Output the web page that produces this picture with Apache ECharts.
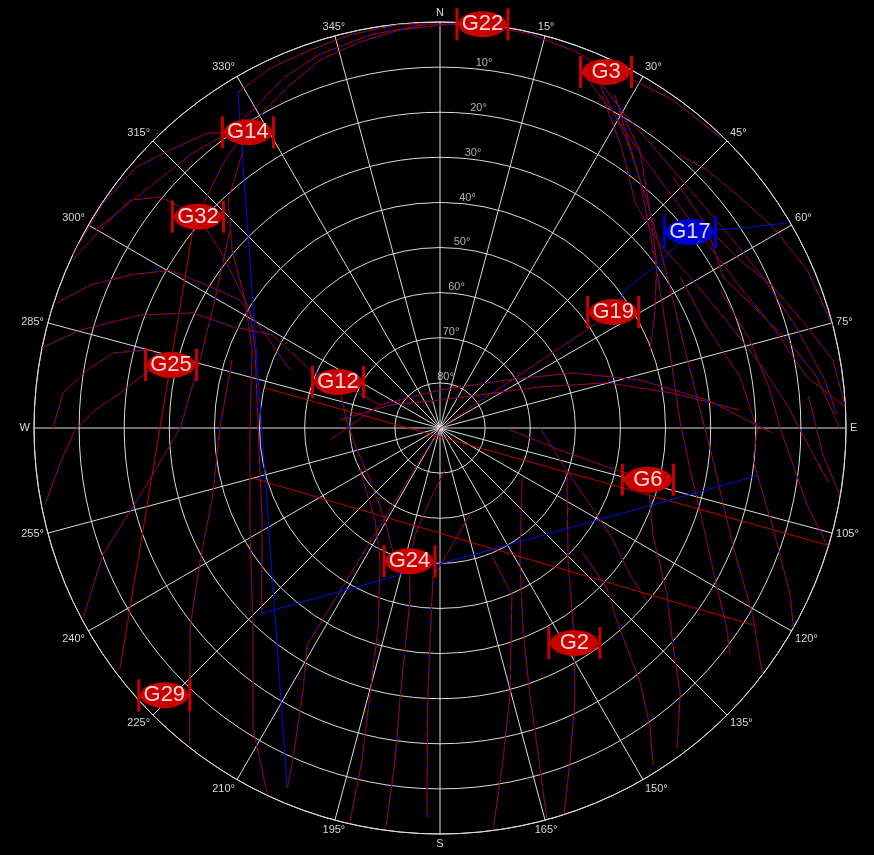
<!DOCTYPE html>
<html><head><meta charset="utf-8">
<script src="https://cdn.jsdelivr.net/npm/echarts@6/dist/echarts.min.js"></script>
<style>html,body{margin:0;padding:0;background:#000;}#c{width:874px;height:855px;}</style>
</head><body><div id="c"></div>
<script>
// ---- tick labels ----
const angleTicks = [0,15,30,45,60,75,90,105,120,135,150,165,180,195,210,225,240,255,270,285,300,315,330,345];
const compassNames = {0:'N',90:'E',180:'S',270:'W'};
const elevationRings = [10,20,30,40,50,60,70,80];

// ---- satellites: name, azimuth, elevation ----
const satNames = ['G22','G3','G14','G32','G25','G12','G17','G19','G6','G2','G24','G29'];
const satAz    = [6,    25,  327,  311.1,283.2,294.3,51.9, 56.2, 104, 148, 192.9,225.9];
const satEl    = [0,    2.9, 11.8, 18.8, 28.75,65.2, 19.6, 43.8, 42.5,33.8,59.7, 4.9];
const satBlue  = ['G17'];

// ---- tracks: [azimuth, elevation] ----
const rimNorth = [[328.8,3.2],[334.7,1.8],[341,1.4],[347.1,0.6],[354.3,0],[6,0],[12.9,0.4],[20,1.3],[24.9,2.7],[29,1.8],[35.4,0.8],[43.9,0.5]];
const rimG14 = [[327,11.8],[331.2,9.5],[336.4,7],[341.9,4.2],[348.3,2.6],[354.3,1.3],[2,0.3]];
const nw3 = [[300,2],[306,5],[312,7],[318,8],[324,9.5],[330,8],[336,5],[342,3],[350,1.5],[358,0.5]];
const nwArc = [[295.3,0],[303.7,0.2],[310.7,1.3],[315.8,4.1],[321.7,6.7],[327,11.8]];
const nw2 = [[294.6,0.5],[300.2,2.8],[306.3,4.7],[309.5,9.5],[311.1,17.4]];
const g32g14 = [[311.1,18.8],[316,16.6],[321.3,13.8],[325.2,12.3],[327,11.8]];
const wave1 = [[288.1,0.7],[292.2,6.2],[296.3,13.4],[300.3,20.7],[301.5,29.4],[302.6,37.4],[298.8,45],[291.1,54.4]];
const g12Track = [[281.4,0],[285.2,7.3],[290.6,18.9],[295,29.6],[296,38.9],[299.1,47.6],[294.1,58.4],[294.3,65.2],[291,75.7]];
const g12Down = [[294.3,65.2],[273.1,69.4],[255.2,71],[233.4,70.7],[210.9,66.2],[198.8,59.1]];
const g32Track = [[311.1,18.8],[309,27.3],[305.8,34],[301.8,40.4],[292.9,45.5],[269.4,49.7],[242.7,45.6],[223.9,33]];
const g14Drop = [[324.7,14.5],[317.1,21],[310.6,29.3],[303.3,38.3],[292.5,44.9],[270,47.9],[242.2,42.4],[223.1,29.3],[211.9,11.6],[205.2,0.1]];
const w1 = [[283.2,28.75],[280.8,23.9],[276.2,18.6],[273,13.4],[269.7,9.1],[264.8,5.5],[259,0.8]];
const w2 = [[313.3,26],[299.6,32.6],[285.8,34.7],[270,32.4],[260,24.7],[255,18.9],[249.4,10.2],[242,0.4]];
const w5 = [[288.1,41.5],[270,41.2],[253.6,37.5],[241,29.2],[231.3,19],[223.7,9.7],[218.3,0.5]];
const n6 = [[270,4.2],[275.3,6.1],[279.3,10.7],[282.9,15.6],[285.1,23.4],[283.2,28.75]];
const cs1 = [[56.2,43.8],[0,90],[211.5,33.6],[207.6,24.5],[203.9,9.5],[203,3.3]];
const s1 = [[173.2,80.6],[187.9,73.9],[193.2,65.6],[192.9,59.7],[189.9,51.3],[189,40.2],[188.4,29.1],[187.7,15.7],[187.7,1]];
const s2 = [[242.3,70],[215.2,65],[204.4,57.9],[197.2,43.6],[194.7,28.8],[193.2,14.2],[192.9,0.6]];
const s3 = [[160,70],[182.7,56.7],[182.7,43],[182.6,30.7],[182.2,16.1],[181.9,3.5]];
const br1 = [[157.8,58.9],[156.7,49.7],[165.3,28.8],[169.3,14.9],[172.5,0]];
const br2 = [[121.4,68.7],[149,55.6],[157.5,42],[161.4,27.5],[163,16.5],[164.7,0.4]];
const g2Track = [[108.7,60.3],[135.9,49.2],[148,33.8],[153.6,22.7],[158.6,11],[162.2,0]];
const br4 = [[131.2,47.9],[133.8,38.7],[137.5,32],[141.7,18.5],[145,8.8],[147.7,1.6]];
const g6Track = [[91.6,74.5],[100.4,63],[103.2,51.3],[104,42.5],[116.7,37.2],[126.3,27.5],[133,19.4],[138,10.4],[143.5,1.7]];
const ne3 = [[27.7,6.6],[38.9,19.4],[52,29.5],[68.9,35.8],[88.1,36.8],[99.5,33.8],[107.7,29.5],[118.9,20.3],[124.9,12.5],[128,8.4]];
const ne2 = [[25,6.1],[33,13.9],[43.9,22.9],[57,29.7],[72.3,33],[86,32.2],[96.9,29],[111.8,20.1],[120.9,9.2],[127.4,0]];
const ne8 = [[57.8,27.1],[69.3,26.7],[80.4,22.5],[90.2,19.7],[96,20.2],[106.7,12.9],[115.5,4],[119.5,0]];
const ne9 = [[63.8,20.8],[74.2,18.6],[83.4,16.4],[90,14.6],[101.8,6.9],[106.8,0.4]];
const br10 = [[85,8],[94,4.9],[99.5,0.1]];
const ne1 = [[21.9,5.2],[28.8,10.3],[36,14.6],[45.2,17.3],[55.3,18],[64.8,16.5],[73.1,12.9],[82.1,7.9],[87,0]];
const ne12 = [[23,4],[30,9],[38,12],[47,13.5],[56,13],[65,11],[74,8],[83,4],[88,2]];
const ne13 = [[26,8],[33,16],[41,24],[50,26.5],[60,25],[70,22],[78,18],[86,13],[93,8],[98,3]];
const ne5 = [[41.3,9.4],[46,7.7],[52.4,6.1],[58.9,3.8],[66.7,1.4],[75.6,0]];
const ne6 = [[55.4,15.4],[60.8,13.8],[67,9.8],[74.6,5.6],[80.2,1.6],[87,0]];
const ne7 = [[42.9,14.1],[53,15.9],[61.9,18.9],[69.6,15],[76.3,10.2],[82.3,5.7],[90.1,1.3]];
const ne11 = [[28.1,7.6],[35.7,14.1],[43.9,22.9],[52.7,29.6],[61.2,35.6],[69.6,40.3]];
const br11 = [[90,67.8],[104.9,62.5],[113.9,56.1],[119,50.2],[122.9,44.3],[127.7,36.8],[129.9,30.2]];
const ar1 = [[263.8,65.5],[291,75.7],[0,81.6],[54.4,71.7],[67.5,58.1],[76.5,44.4],[84,30.5],[90.9,16.2]];
const ar2 = [[274.6,67.8],[294.7,77.8],[0,83.8],[67.7,66],[74.9,51.6],[81.5,37.8],[86.6,23.4]];
const redJump1 = [[308.7,19.8],[233.1,1.3]];
const redJump2 = [[255,47],[122,7.1]];
const redJump3 = [[282.9,50.2],[106.8,0]];
const blueJump1 = [[223.9,33],[98.4,18.4]];
const blueJump2 = [[329.1,2.7],[203.2,3.9]];
const g17Track = [[59.4,0.7],[56.7,9.2],[51.9,19.6],[53,28.9],[53.3,38.8],[56.2,43.8]];

const mixedTracks = [rimNorth, rimG14, nw3, nwArc, nw2, g32g14, wave1, g12Track, g12Down, g32Track, g14Drop, w1, w2, w5, n6, cs1, s1, s2, s3, br1, br2, g2Track, br4, g6Track, ne3, ne2, ne8, ne9, br10, ne1, ne12, ne13, ne5, ne6, ne7, ne11, br11, ar1, ar2];
const redTracks = [redJump1, redJump2, redJump3];
const blueTracks = [blueJump1, blueJump2, g17Track];

// ---- styles ----
const RED = '#c00000', BLUE = '#0010d8', GRID = '#dcdcdc', TXT = '#d8d8d8';
const toPolar = t => t.map(p => [p[1], p[0]]);
const series = [];
function lineSeries(track, color, dashed, z) {
  return {
    type: 'line', coordinateSystem: 'polar', data: toPolar(track),
    showSymbol: false, symbol: 'none', silent: true, animation: false, z: z,
    lineStyle: { color: color, width: 1, type: dashed ? [4, 8] : 'solid', dashOffset: 3 }
  };
}
mixedTracks.forEach(t => { series.push(lineSeries(t, RED, false, 2)); series.push(lineSeries(t, BLUE, true, 3)); });
redTracks.forEach(t => series.push(lineSeries(t, RED, false, 2)));
blueTracks.forEach(t => series.push(lineSeries(t, BLUE, false, 3)));

// ring labels along a slanted line just right of north
series.push({
  type: 'scatter', coordinateSystem: 'polar', symbolSize: 0, silent: true, animation: false, z: 5,
  data: elevationRings.map(e => [e, 7]),
  label: { show: true, position: 'top', distance: 1, color: TXT, fontSize: 11, fontFamily: 'Liberation Sans, Arial',
           formatter: p => p.value[0] + '°' }
});

const satPath = 'path://M0,0L3,0L3,32L0,32Z M51,0L54,0L54,32L51,32Z M3,16A24,13 0 1 1 51,16A24,13 0 1 1 3,16Z';
series.push({
  type: 'scatter', coordinateSystem: 'polar', symbol: satPath, symbolSize: [54, 32], silent: true, animation: false, z: 10,
  data: satNames.map((n, i) => {
    const blue = satBlue.includes(n);
    return {
      value: [satEl[i], satAz[i]], name: n,
      itemStyle: { color: blue ? '#0000d0' : '#c80000', opacity: 1 },
      label: { color: blue ? '#dcdcff' : '#ffd8d8' }
    };
  }),
  label: { show: true, position: 'inside', fontSize: 22, fontFamily: 'Liberation Sans, Arial', formatter: p => p.name }
});

const chart = echarts.init(document.getElementById('c'), null, { renderer: 'canvas' });
chart.setOption({
  backgroundColor: '#000',
  animation: false,
  polar: { center: [440, 428], radius: 406 },
  angleAxis: {
    type: 'value', min: 0, max: 360, interval: 15, startAngle: 90, clockwise: true,
    axisLine: { show: true, lineStyle: { color: GRID, width: 1 } },
    axisTick: { show: false },
    splitLine: { show: true, lineStyle: { color: GRID, width: 1 } },
    axisLabel: {
      margin: 4, color: TXT, fontSize: 11, fontFamily: 'Liberation Sans, Arial',
      formatter: v => (v >= 360 ? '' : (compassNames[v] !== undefined ? compassNames[v] : (angleTicks.includes(v) ? v + '°' : '')))
    }
  },
  radiusAxis: {
    type: 'value', min: 0, max: 90, interval: 10, inverse: true,
    axisLine: { show: false }, axisTick: { show: false }, axisLabel: { show: false },
    splitLine: { show: true, lineStyle: { color: GRID, width: 1 } }
  },
  series: series
});
</script></body></html>
